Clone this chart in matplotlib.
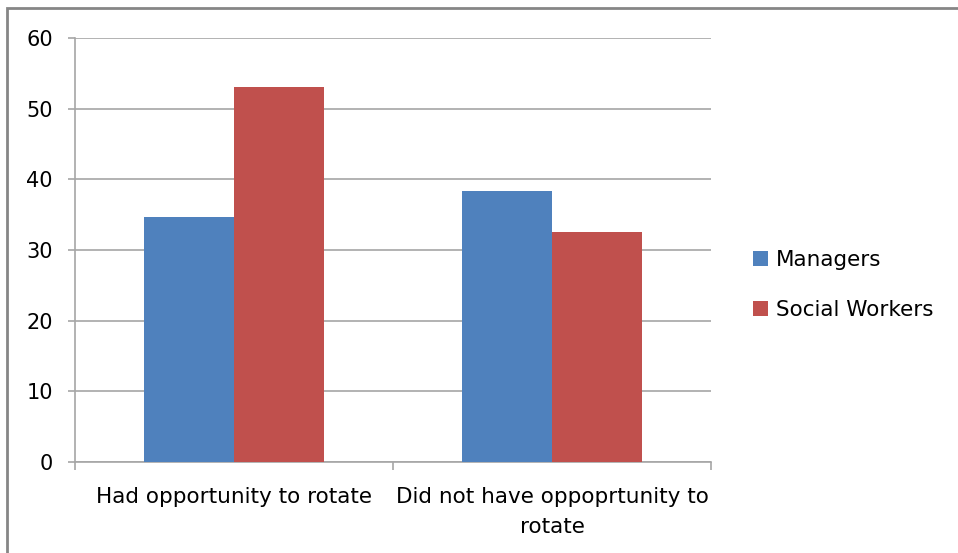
import matplotlib
matplotlib.use("Agg")
import matplotlib.pyplot as plt
from matplotlib.patches import Rectangle
import numpy as np

categories = ["Had opportunity to rotate", "Did not have oppoprtunity to\nrotate"]
series_names = ["Managers", "Social Workers"]
managers = [34.6, 38.4]
social_workers = [53.0, 32.5]
yticks = [0, 10, 20, 30, 40, 50, 60]

colors = ["#4F81BD", "#C0504D"]
grid_c = "#A6A6A6"
font = ["DejaVu Sans"]
plt.rcParams["font.family"] = font

fig = plt.figure(figsize=(9.58, 5.53), dpi=100)
ax = fig.add_axes([75/958, 1-462/553, (711-75)/958, (462-38)/553])

x = np.arange(len(categories))
bw = 90/318
b1 = ax.bar(x - bw/2, managers, bw, color=colors[0], label=series_names[0], zorder=3)
b2 = ax.bar(x + bw/2, social_workers, bw, color=colors[1], label=series_names[1], zorder=3)

ax.set_xlim(-0.5, 1.5)
ax.set_ylim(0, 60)
ax.set_yticks(yticks)
ax.set_yticklabels([str(v) for v in yticks], fontsize=15)
ax.yaxis.grid(True, color=grid_c, linewidth=1.2, zorder=0)
ax.set_axisbelow(True)

ax.set_xticks([-0.5, 0.5, 1.5])
ax.set_xticklabels([])
ax.set_xticks(x, minor=True)
ax.set_xticklabels(categories, minor=True, fontsize=15.5, linespacing=1.6)
ax.tick_params(axis="x", which="minor", length=0, pad=18)
ax.tick_params(axis="x", which="major", length=6, color=grid_c, width=1.2)
ax.tick_params(axis="y", length=5, color=grid_c, width=1.2, pad=11)

for s in ["top", "right"]:
    ax.spines[s].set_visible(False)
for s in ["left", "bottom"]:
    ax.spines[s].set_color(grid_c)
    ax.spines[s].set_linewidth(1.2)

leg = fig.legend(handles=[b1, b2], labels=series_names, loc="center left",
                 bbox_to_anchor=(753/958, 1-285/553), frameon=False, fontsize=15.5,
                 borderpad=0, borderaxespad=0,
                 handlelength=0.7, handleheight=0.7, handletextpad=0.35,
                 labelspacing=1.4)

fig.patches.append(Rectangle((7/958, -0.1), 2, (553-8)/553 + 0.1,
                             transform=fig.transFigure, fill=False,
                             edgecolor="#868686", linewidth=2))

fig.savefig("out.png", dpi=100)
